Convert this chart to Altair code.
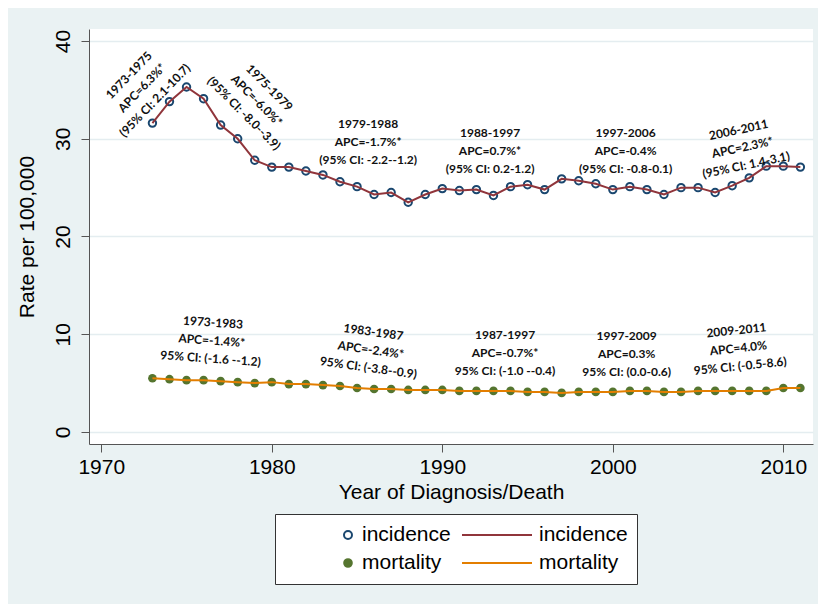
import altair as alt
import pandas as pd

# ---------------- data ----------------
years = list(range(1973, 2012))
incidence = [31.6, 33.8, 35.3, 34.1, 31.4, 30.0, 27.8, 27.1, 27.1, 26.7,
             26.3, 25.6, 25.1, 24.3, 24.5, 23.5, 24.3, 24.9, 24.7, 24.8,
             24.2, 25.1, 25.3, 24.8, 25.9, 25.7, 25.4, 24.8, 25.1, 24.8,
             24.3, 25.0, 25.0, 24.5, 25.2, 26.0, 27.2, 27.2, 27.1]
mortality = [5.5, 5.4, 5.3, 5.3, 5.2, 5.1, 5.0, 5.1, 4.9, 4.9,
             4.8, 4.7, 4.5, 4.4, 4.4, 4.3, 4.3, 4.3, 4.2, 4.2,
             4.2, 4.2, 4.1, 4.1, 4.0, 4.1, 4.1, 4.1, 4.2, 4.2,
             4.1, 4.1, 4.2, 4.2, 4.2, 4.2, 4.2, 4.5, 4.5]

ann_text = [
    "1973-1975\nAPC=6.3%*\n(95% CI: 2.1-10.7)",
    "1975-1979\nAPC=-6.0%*\n(95% CI: -8.0--3.9)",
    "1979-1988\nAPC=-1.7%*\n(95% CI: -2.2--1.2)",
    "1988-1997\nAPC=0.7%*\n(95% CI: 0.2-1.2)",
    "1997-2006\nAPC=-0.4%\n(95% CI: -0.8-0.1)",
    "2006-2011\nAPC=2.3%*\n(95% CI: 1.4-3.1)",
    "1973-1983\nAPC=-1.4%*\n95% CI: (-1.6 --1.2)",
    "1983-1987\nAPC=-2.4%*\n95% CI: (-3.8--0.9)",
    "1987-1997\nAPC=-0.7%*\n95% CI: (-1.0 --0.4)",
    "1997-2009\nAPC=0.3%\n95% CI: (0.0-0.6)",
    "2009-2011\nAPC=4.0%\n95% CI: (-0.5-8.6)",
]
ann_year = [1972.39, 1979.11, 1985.65, 1992.8, 2000.75, 2007.6,
            1976.48, 1985.81, 1993.68, 2000.81, 2007.36]
ann_rate = [35.2, 33.9, 29.7, 28.75, 28.7, 29.1,
            9.34, 8.39, 8.08, 7.95, 8.56]
ann_angle = [314, 45, 0, 0, 0, 348, 4, 8, 0, 0, 354]

x_ticks = [1970, 1980, 1990, 2000, 2010]
y_ticks = [0, 10, 20, 30, 40]

# legend entries (column-major: column 1 = markers, column 2 = lines)
leg_keys = ["inc_pt", "mort_pt", "inc_line", "mort_line"]
leg_colors = ["#1a476f", "#55752f", "#90353b", "#e37e00"]
leg_shapes = [
    "M0.914,0A0.114,0.114,0,1,1,0.686,0A0.114,0.114,0,1,1,0.914,0Z",
    "M0.909,0A0.109,0.109,0,1,1,0.691,0A0.109,0.109,0,1,1,0.909,0Z"
    "M0.869,0A0.069,0.069,0,1,1,0.731,0A0.069,0.069,0,1,1,0.869,0Z"
    "M0.829,0A0.029,0.029,0,1,1,0.771,0A0.029,0.029,0,1,1,0.829,0Z",
    "stroke",
    "stroke",
]

# ---------------- tables ----------------
df = pd.DataFrame({
    "year": years * 2,
    "rate": incidence + mortality,
    "series": ["incidence"] * len(years) + ["mortality"] * len(years),
})
ann = pd.DataFrame({"label": ann_text, "year": ann_year, "rate": ann_rate,
                    "angle": ann_angle})
leg_df = pd.DataFrame({"key": leg_keys})

W, H = 724, 415
xscale = alt.Scale(domain=[1969.28, 2011.74], nice=False, zero=False)
yscale = alt.Scale(domain=[-1.23, 41.23], nice=False, zero=False)

X = alt.X("year:Q", scale=xscale,
          axis=alt.Axis(values=x_ticks, format="d", title="Year of Diagnosis/Death",
                        grid=False, tickSize=8, labelPadding=4, titlePadding=4,
                        labelFlush=False))
Y = alt.Y("rate:Q", scale=yscale,
          axis=alt.Axis(values=y_ticks, format="d", title="Rate per 100,000",
                        grid=True, gridColor="#e4edf0", gridWidth=1.5,
                        tickSize=8, labelAngle=270, labelAlign="center",
                        labelBaseline="middle", labelPadding=18,
                        titleX=-62, titleY=H / 2, titleAngle=270,
                        titleAlign="center", titleBaseline="middle",
                        labelFlush=False))

base = alt.Chart(df)

inc_pts = base.transform_filter(alt.datum.series == "incidence").mark_point(
    shape="circle", filled=False, stroke="#1a476f", strokeWidth=2, size=55, opacity=1
).encode(x=X, y=Y)

mort_pts = base.transform_filter(alt.datum.series == "mortality").mark_circle(
    color="#55752f", size=75, opacity=1
).encode(x=X, y=Y)

inc_line = base.transform_filter(alt.datum.series == "incidence").mark_line(
    stroke="#90353b", strokeWidth=2
).encode(x=X, y=Y)

mort_line = base.transform_filter(alt.datum.series == "mortality").mark_line(
    stroke="#e37e00", strokeWidth=2
).encode(x=X, y=Y)

labels = alt.Chart(ann).mark_text(
    font="Lato", fontWeight="bold", fontSize=12, lineBreak="\n", lineHeight=18,
    align="center", baseline="middle", color="#111111", dy=-18
).encode(
    x=X, y=Y,
    text="label:N",
    angle=alt.Angle("angle:Q", scale=None),
)

leg = alt.Legend(
    title=None, orient="none", legendX=186, legendY=485, columns=2,
    symbolSize=4900, symbolStrokeWidth=2, clipHeight=24,
    labelExpr="indexof(datum.value, 'inc') == 0 ? 'incidence' : 'mortality'",
    labelFont="Liberation Sans", labelFontSize=21, labelColor="black",
    labelOffset=6, columnPadding=10, rowPadding=4, padding=9,
    strokeColor="#333333", fillColor="white", cornerRadius=0,
)

legend_layer = alt.Chart(leg_df).transform_filter("false").mark_point(
    filled=False, opacity=1, strokeWidth=2
).encode(
    x=alt.value(0), y=alt.value(0),
    stroke=alt.Stroke("key:N", scale=alt.Scale(domain=leg_keys, range=leg_colors),
                      legend=leg),
    shape=alt.Shape("key:N", scale=alt.Scale(domain=leg_keys, range=leg_shapes),
                    legend=leg),
)

chart = alt.layer(
    inc_pts, mort_pts, inc_line, mort_line, labels, legend_layer
).properties(
    width=W, height=H,
    background="#eaf2f3",
    padding={"left": 81, "top": 21, "right": 5, "bottom": 160},
    autosize=alt.AutoSizeParams(type="none"),
).configure_view(
    fill="white", stroke=None
).configure_axis(
    labelFont="Liberation Sans", titleFont="Liberation Sans",
    labelFontSize=21, titleFontSize=21, titleFontWeight="normal",
    labelColor="black", titleColor="black",
    domainColor="#555555", tickColor="#555555", domainWidth=1, tickWidth=1,
).configure_axisY(
    labelAngle=270
)

chart.save("out.html", embed_options={"renderer": "svg", "actions": False})
